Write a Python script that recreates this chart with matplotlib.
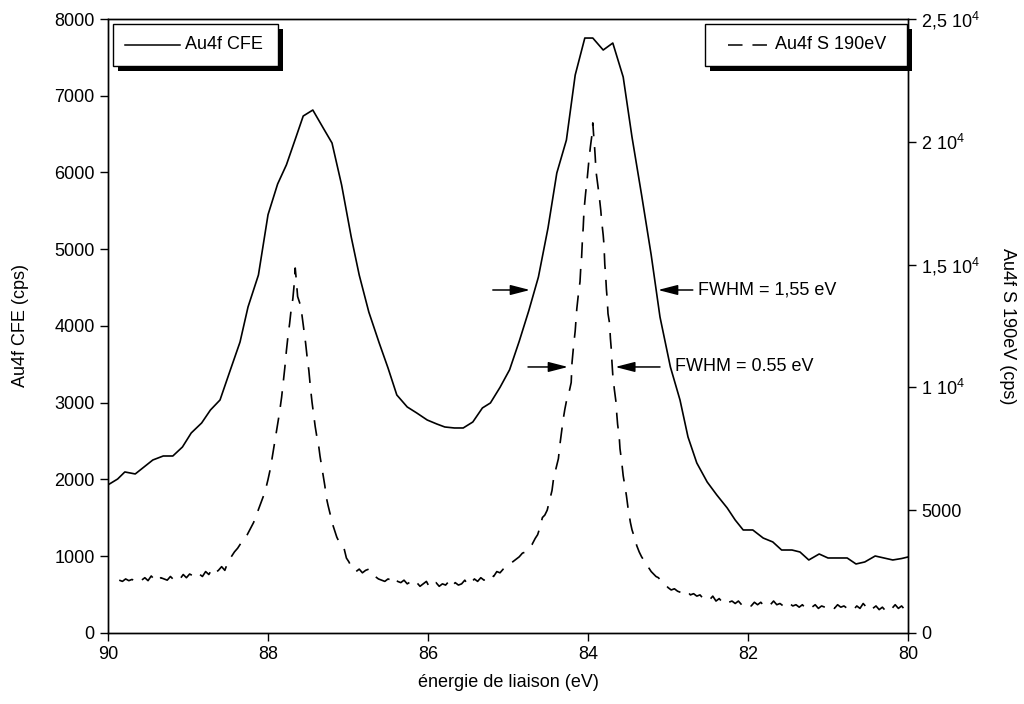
import matplotlib
matplotlib.use("Agg")
import matplotlib.pyplot as plt
from matplotlib.patches import Rectangle

plt.rcParams['font.family'] = ['Liberation Sans', 'DejaVu Sans']
plt.rcParams['mathtext.fontset'] = 'custom'
plt.rcParams['mathtext.rm'] = 'Liberation Sans'
plt.rcParams['mathtext.default'] = 'regular'
FS = 13

# Au4f CFE (left axis, cps)
cfe_e = [90.0, 89.88, 89.79, 89.66, 89.55, 89.44, 89.31, 89.19, 89.07, 88.96,
         88.83, 88.72, 88.6, 88.48, 88.35, 88.25, 88.12, 88.0, 87.88, 87.77,
         87.65, 87.56, 87.44, 87.31, 87.2, 87.08, 86.96, 86.86, 86.74, 86.61,
         86.5, 86.39, 86.26, 86.14, 86.01, 85.89, 85.79, 85.67, 85.56, 85.44,
         85.32, 85.22, 85.1, 84.98, 84.86, 84.74, 84.62, 84.5, 84.39, 84.27,
         84.16, 84.04, 83.94, 83.81, 83.69, 83.56, 83.45, 83.33, 83.21, 83.1,
         82.97, 82.85, 82.75, 82.64, 82.51, 82.39, 82.26, 82.16, 82.06, 81.94,
         81.81, 81.69, 81.58, 81.45, 81.35, 81.24, 81.11, 81.0, 80.88, 80.76,
         80.65, 80.54, 80.41, 80.3, 80.19, 80.08, 80.0]
cfe_y = [1930, 2006, 2098, 2072, 2163, 2254, 2306, 2306, 2423, 2606,
         2736, 2905, 3036, 3400, 3791, 4248, 4664, 5450, 5850, 6100,
         6462, 6736, 6814, 6580, 6384, 5837, 5160, 4664, 4182, 3778,
         3453, 3101, 2945, 2866, 2775, 2723, 2684, 2671, 2671, 2749,
         2932, 2997, 3200, 3430, 3800, 4200, 4638, 5277, 5993, 6423,
         7270, 7752, 7752, 7596, 7687, 7244, 6462, 5707, 4925, 4117,
         3466, 3036, 2554, 2215, 1967, 1798, 1629, 1472, 1342, 1342,
         1237, 1186, 1081, 1081, 1055, 951, 1029, 977, 977, 977,
         899, 925, 1003, 977, 951, 970, 990]

# Au4f S 190eV (right axis, cps)
s190_e = [89.86, 89.82, 89.78, 89.74, 89.70, 89.66, 89.62, 89.58, 89.54, 89.50,
          89.46, 89.42, 89.38, 89.34, 89.30, 89.26, 89.22, 89.18, 89.14, 89.10,
          89.06, 89.02, 88.98, 88.94, 88.90, 88.86, 88.82, 88.78, 88.74, 88.70,
          88.66, 88.62, 88.58, 88.54, 88.50, 88.46, 88.42, 88.38, 88.34, 88.30,
          88.26, 88.22, 88.18, 88.14, 88.10, 88.06, 88.03, 88.00, 87.97, 87.94,
          87.91, 87.88, 87.86, 87.83, 87.81, 87.79, 87.77, 87.75, 87.73, 87.71,
          87.69, 87.67, 87.66, 87.65, 87.63, 87.61, 87.59, 87.57, 87.55, 87.53,
          87.51, 87.49, 87.47, 87.45, 87.43, 87.41, 87.39, 87.37, 87.35, 87.33,
          87.31, 87.29, 87.27, 87.25, 87.22, 87.20, 87.17, 87.14, 87.11, 87.08,
          87.05, 87.02, 86.99, 86.96, 86.93, 86.90, 86.86, 86.82, 86.78, 86.74,
          86.70, 86.66, 86.62, 86.58, 86.54, 86.50, 86.46, 86.42, 86.38, 86.34,
          86.30, 86.26, 86.22, 86.18, 86.14, 86.10, 86.06, 86.02, 85.98, 85.94,
          85.90, 85.86, 85.82, 85.78, 85.74, 85.70, 85.66, 85.62, 85.58, 85.54,
          85.50, 85.46, 85.42, 85.38, 85.34, 85.30, 85.26, 85.22, 85.18, 85.14,
          85.10, 85.06, 85.02, 84.98, 84.94, 84.90, 84.86, 84.82, 84.78, 84.74,
          84.70, 84.66, 84.63, 84.60, 84.57, 84.54, 84.51, 84.48, 84.45, 84.43,
          84.40, 84.37, 84.35, 84.33, 84.31, 84.29, 84.26, 84.23, 84.21, 84.20,
          84.18, 84.16, 84.14, 84.12, 84.10, 84.09, 84.08, 84.07, 84.06, 84.05,
          84.03, 84.01, 83.99, 83.97, 83.95, 83.94, 83.93, 83.92, 83.91, 83.90,
          83.88, 83.86, 83.84, 83.83, 83.81, 83.80, 83.79, 83.78, 83.77, 83.76,
          83.75, 83.73, 83.72, 83.71, 83.70, 83.69, 83.67, 83.65, 83.64, 83.63,
          83.61, 83.60, 83.58, 83.56, 83.54, 83.52, 83.50, 83.47, 83.45, 83.42,
          83.39, 83.36, 83.33, 83.30, 83.27, 83.24, 83.21, 83.18, 83.15, 83.12,
          83.08, 83.04, 83.00, 82.96, 82.92, 82.88, 82.84, 82.80, 82.76, 82.72,
          82.68, 82.64, 82.60, 82.56, 82.52, 82.48, 82.44, 82.40, 82.36, 82.32,
          82.28, 82.24, 82.20, 82.16, 82.12, 82.08, 82.04, 82.00, 81.96, 81.92,
          81.88, 81.84, 81.80, 81.76, 81.72, 81.68, 81.64, 81.60, 81.56, 81.52,
          81.48, 81.44, 81.40, 81.36, 81.32, 81.28, 81.24, 81.20, 81.16, 81.12,
          81.08, 81.04, 81.00, 80.96, 80.92, 80.88, 80.84, 80.80, 80.76, 80.72,
          80.68, 80.64, 80.60, 80.56, 80.52, 80.48, 80.44, 80.40, 80.36, 80.32,
          80.28, 80.24, 80.20, 80.16, 80.12, 80.08, 80.04, 80.00]
s190_y = [2150, 2100, 2200, 2130, 2180, 2100, 2220, 2150, 2250, 2130,
          2320, 2180, 2080, 2250, 2200, 2150, 2300, 2170, 2280, 2200,
          2380, 2250, 2400, 2330, 2250, 2400, 2300, 2500, 2380, 2600,
          2450, 2550, 2700, 2550, 2900, 3100, 3300, 3450, 3650, 3800,
          4000, 4250, 4500, 4850, 5200, 5550, 5850, 6250, 6700, 7300,
          7900, 8500, 8900, 9600, 10200, 10800, 11500, 12100, 12600, 13200,
          13600, 14300, 14860, 14500, 13700, 13500, 13300, 12800, 12300, 11800,
          11200, 10700, 10000, 9400, 8900, 8400, 8000, 7700, 7200, 6800,
          6400, 6000, 5500, 5200, 4800, 4500, 4200, 3900, 3700, 3550,
          3450, 3050, 2900, 2700, 2650, 2500, 2600, 2450, 2550, 2600,
          2400, 2300, 2200, 2150, 2100, 2200, 2150, 2280, 2100, 2050,
          2150, 2000, 2080, 1950, 2050, 1900, 2000, 2100, 1850, 1950,
          2050, 1900, 2000, 1950, 2100, 1900, 2050, 1950, 2000, 2150,
          1950, 2050, 2200, 2100, 2250, 2150, 2300, 2400, 2300, 2500,
          2450, 2600, 2700, 2800, 2900, 3000, 3100, 3250, 3300, 3450,
          3600, 3850, 4000, 4300, 4700, 4800, 5000, 5400, 5800, 6300,
          6700, 7100, 7700, 8200, 8700, 9100, 9600, 9900, 10200, 11000,
          11700, 12300, 13200, 13800, 14300, 14900, 15300, 16000, 16500, 17200,
          17900, 18500, 19200, 19800, 20300, 20770, 20300, 19900, 19400, 18800,
          18300, 17800, 17200, 16800, 16200, 15800, 15000, 14600, 14000, 13600,
          13000, 12600, 12000, 11600, 11000, 10500, 9900, 9400, 8900, 8500,
          8000, 7500, 7000, 6400, 6000, 5600, 5100, 4500, 4200, 3900,
          3550, 3300, 3100, 2950, 2850, 2650, 2500, 2400, 2300, 2250,
          2100, 2000, 1850, 1750, 1800, 1700, 1650, 1600, 1700, 1550,
          1600, 1500, 1550, 1400, 1450, 1350, 1500, 1300, 1400, 1250,
          1350, 1250, 1300, 1200, 1300, 1150, 1250, 1200, 1100, 1250,
          1150, 1250, 1100, 1200, 1150, 1300, 1150, 1200, 1100, 1050,
          1200, 1100, 1150, 1050, 1150, 1000, 1100, 1050, 1150, 1000,
          1100, 1050, 1000, 1100, 1000, 1150, 1050, 1100, 1000, 1050,
          950, 1100, 1000, 1200, 1050, 1150, 1000, 1100, 950, 1050,
          900, 1050, 1000, 1150, 1000, 1100, 950, 1050]

left_ticks = [0, 1000, 2000, 3000, 4000, 5000, 6000, 7000, 8000]
right_ticks = [0, 5000, 10000, 15000, 20000, 25000]
right_labels = ['0', '5000', '1 10$^{4}$', '1,5 10$^{4}$', '2 10$^{4}$', '2,5 10$^{4}$']
x_ticks = [90, 88, 86, 84, 82, 80]

DASH = (0, (9.5, 6.5))


def draw_legend(ax, x0, x1, label, ls, hx0, hx1, tx):
    # boite de legende avec ombre noire, style Excel
    y0, y1 = 0.9235, 0.9919
    ym = (y0 + y1) / 2
    ax.add_patch(Rectangle((x0 + 0.00625, y0 - 0.0081), x1 - x0, y1 - y0,
                           transform=ax.transAxes, fc='black', ec='none',
                           zorder=9, clip_on=False))
    ax.add_patch(Rectangle((x0, y0), x1 - x0, y1 - y0, transform=ax.transAxes,
                           fc='white', ec='black', lw=1.0, zorder=10, clip_on=False))
    ax.plot([hx0, hx1], [ym, ym], transform=ax.transAxes, color='black',
            ls=ls, lw=1.1, zorder=11, clip_on=False)
    ax.text(tx, ym, label, transform=ax.transAxes, va='center', ha='left',
            fontsize=FS, zorder=11)


fig = plt.figure(figsize=(10.24, 7.04), dpi=100)
ax = fig.add_axes([0.1055, 0.1009, 0.7812, 0.8721])
ax2 = ax.twinx()

ax.plot(cfe_e, cfe_y, color='black', lw=1.2)
ax2.plot(s190_e, s190_y, color='black', lw=1.2, ls=DASH)

ax.set_xlim(90, 80)
ax.set_ylim(0, 8000)
ax2.set_ylim(0, 25000)

ax.set_xticks(x_ticks)
ax.set_xticklabels([str(v) for v in x_ticks])
ax.set_yticks(left_ticks)
ax.set_yticklabels([str(v) for v in left_ticks])
ax2.set_yticks(right_ticks)
ax2.set_yticklabels(right_labels)

for a in (ax, ax2):
    a.tick_params(direction='out', length=6, width=1, labelsize=FS)
    for s in a.spines.values():
        s.set_linewidth(1.0)

ax.set_xlabel('énergie de liaison (eV)', fontsize=FS, labelpad=8)
ax.set_ylabel('Au4f CFE (cps)', fontsize=FS, labelpad=18)
ax2.set_ylabel('Au4f S 190eV (cps)', fontsize=FS, rotation=270, va='bottom', labelpad=14)

# fleches FWHM
arrow = dict(arrowstyle='-|>,head_length=0.7,head_width=0.18', color='black',
             lw=1.1, mutation_scale=17, shrinkA=0, shrinkB=0)
ax.annotate('', xy=(84.725, 4469), xytext=(85.19, 4469), arrowprops=arrow)
ax.annotate('', xy=(83.125, 4469), xytext=(82.69, 4469), arrowprops=arrow)
ax.text(82.625, 4469, 'FWHM = 1,55 eV', va='center', ha='left', fontsize=FS)
ax.annotate('', xy=(84.25, 3466), xytext=(84.75, 3466), arrowprops=arrow)
ax.annotate('', xy=(83.66, 3466), xytext=(83.1, 3466), arrowprops=arrow)
ax.text(82.91, 3466, 'FWHM = 0.55 eV', va='center', ha='left', fontsize=FS)

draw_legend(ax2, 0.00625, 0.2125, 'Au4f CFE', '-', 0.021, 0.09, 0.096)
draw_legend(ax2, 0.746, 0.99875, 'Au4f S 190eV', DASH, 0.775, 0.825, 0.834)

ax2.set_ylim(0, 25000)
fig.savefig('out.png', dpi=100)
